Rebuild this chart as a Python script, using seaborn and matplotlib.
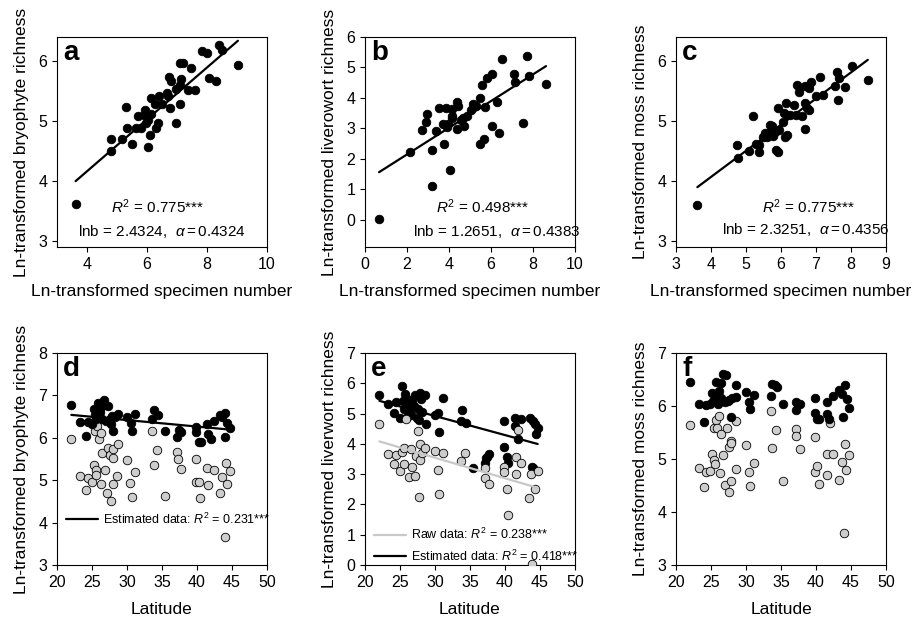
import numpy as np
import pandas as pd
import seaborn as sns
import matplotlib.pyplot as plt

# ---- top row: richness vs specimen number ----
a_x = [3.62, 4.81, 4.81, 5.17, 5.31, 5.34, 5.50, 5.64, 5.71, 5.81, 5.89, 5.92, 5.98, 6.03,
       6.11, 6.13, 6.13, 6.27, 6.31, 6.38, 6.39, 6.51, 6.68, 6.76, 6.72, 6.81, 6.98, 6.98,
       7.09, 7.11, 7.14, 7.09, 7.20, 7.37, 7.48, 7.59, 7.84, 8.00, 8.07, 8.29, 8.40, 8.51,
       9.03, 6.70, 6.02]
a_y = [3.62, 4.70, 4.50, 4.70, 5.23, 4.88, 4.62, 4.89, 5.09, 4.89, 5.10, 5.19, 4.97, 4.57,
       4.76, 5.11, 5.38, 5.29, 4.88, 4.97, 5.41, 5.29, 5.47, 5.21, 5.73, 5.67, 4.96, 5.53,
       5.60, 5.28, 5.70, 5.97, 5.97, 5.52, 5.88, 5.52, 6.16, 6.13, 5.71, 5.66, 6.27, 6.19,
       5.94, 5.41, 5.02]
a_lnb, a_alpha = 2.4324, 0.4324

b_x = [0.67, 2.14, 2.70, 2.90, 2.97, 3.21, 3.21, 3.38, 3.52, 3.76, 3.73, 3.84, 3.89, 3.97,
       4.05, 4.13, 4.14, 4.14, 4.37, 4.41, 4.40, 4.56, 4.68, 4.73, 5.03, 5.16, 5.27, 5.48,
       5.48, 5.56, 5.68, 5.70, 5.79, 6.03, 6.06, 6.27, 6.40, 6.51, 7.10, 7.14, 7.51, 7.70,
       7.83, 8.62, 4.84]
b_y = [0.02, 2.22, 2.96, 3.22, 3.48, 1.12, 2.30, 2.91, 3.67, 2.49, 3.15, 3.67, 3.04, 3.13,
       1.63, 3.64, 3.42, 3.33, 3.86, 3.72, 2.98, 3.26, 3.35, 3.09, 3.59, 3.81, 3.72, 4.00,
       2.49, 4.41, 2.65, 3.70, 4.65, 4.79, 3.06, 3.86, 2.84, 5.29, 4.77, 4.52, 3.18, 5.37,
       4.71, 4.46, 3.42]
b_lnb, b_alpha = 1.2651, 0.4383

c_x = [3.61, 4.73, 4.76, 5.09, 5.21, 5.28, 5.37, 5.37, 5.48, 5.54, 5.59, 5.66, 5.69, 5.73,
       5.78, 5.84, 5.85, 5.92, 5.92, 5.94, 6.05, 6.09, 6.11, 6.14, 6.16, 6.18, 6.26, 6.37,
       6.43, 6.45, 6.51, 6.61, 6.68, 6.69, 6.69, 6.75, 6.80, 6.86, 6.80, 7.00, 7.11, 7.21,
       7.54, 7.59, 7.64, 7.67, 7.84, 8.02, 8.48]
c_y = [3.60, 4.60, 4.38, 4.50, 5.09, 4.61, 4.60, 4.49, 4.73, 4.80, 4.74, 4.80, 4.94, 4.91,
       4.75, 4.82, 4.52, 4.49, 5.21, 4.85, 4.99, 5.13, 4.73, 5.30, 4.77, 5.10, 5.10, 5.26,
       5.10, 5.60, 5.49, 5.09, 5.59, 4.86, 5.30, 5.21, 5.55, 5.65, 5.19, 5.42, 5.73, 5.44,
       5.59, 5.81, 5.35, 5.72, 5.57, 5.91, 5.68]
c_lnb, c_alpha = 2.3251, 0.4356

# ---- bottom row: richness vs latitude (black = estimated, grey = raw) ----
d_est_lat = [22.05, 23.33, 24.19, 24.43, 25.05, 25.29, 25.48, 25.62, 25.86, 26.10, 26.33,
             26.48, 26.67, 26.95, 27.29, 27.52, 27.76, 27.86, 28.00, 28.24, 28.71, 30.05,
             30.52, 30.71, 31.10, 33.62, 33.86, 34.43, 35.38, 37.14, 37.38, 37.76, 39.90,
             39.90, 40.29, 40.52, 41.43, 41.57, 41.95, 42.38, 43.24, 43.57, 43.95, 44.05,
             44.33, 44.67]
d_est = [6.78, 6.38, 6.05, 6.38, 6.32, 6.68, 6.54, 6.44, 6.81, 6.60, 6.72, 6.44, 6.88, 6.39,
         6.76, 6.44, 6.32, 6.52, 6.16, 6.48, 6.56, 6.50, 6.35, 6.16, 6.56, 6.44, 6.66, 6.54,
         6.16, 6.01, 6.18, 6.13, 6.26, 6.13, 5.89, 5.90, 6.32, 6.09, 5.98, 6.40, 6.54, 6.48,
         6.01, 6.58, 6.35, 6.23]
d_raw_lat = [22.05, 23.33, 24.10, 24.43, 25.05, 25.29, 25.38, 25.62, 25.62, 25.76, 25.95,
             26.33, 26.33, 26.48, 26.81, 27.14, 27.29, 27.62, 27.76, 28.00, 28.00, 28.00,
             28.57, 28.71, 30.00, 30.48, 30.71, 31.19, 33.57, 33.86, 34.33, 35.38, 37.14,
             37.29, 37.76, 39.90, 39.90, 40.29, 40.38, 41.48, 41.52, 42.38, 43.33, 43.62,
             43.95, 44.19, 44.33, 44.67]
d_raw = [5.98, 5.11, 4.78, 5.06, 4.95, 5.35, 6.15, 5.25, 5.12, 6.27, 5.97, 6.11, 4.90, 5.65,
         5.24, 4.70, 5.75, 5.59, 4.50, 5.53, 4.90, 5.73, 5.10, 5.86, 5.47, 4.94, 4.61, 5.19,
         6.16, 5.37, 5.71, 4.62, 5.67, 5.51, 5.27, 5.51, 4.95, 4.95, 4.58, 5.29, 4.88, 5.25,
         4.70, 5.08, 3.65, 5.41, 4.91, 5.22]
d_est_fit = (6.878, -0.01532)

e_est_lat = [22.05, 23.33, 24.19, 24.43, 25.00, 25.24, 25.38, 25.57, 25.71, 25.86, 25.95,
             26.19, 26.33, 26.57, 26.76, 27.05, 27.14, 27.38, 27.62, 27.76, 27.86, 27.95,
             28.10, 28.57, 28.71, 30.00, 30.38, 30.62, 31.19, 33.67, 33.90, 34.38, 35.38,
             37.14, 37.29, 37.48, 37.76, 39.90, 39.90, 40.24, 40.48, 41.43, 41.43, 41.90,
             42.29, 43.57, 43.90, 44.05, 44.29, 44.38, 44.67, 44.05]
e_est = [5.61, 5.33, 5.03, 5.39, 4.86, 5.92, 5.42, 5.14, 5.64, 5.50, 4.90, 5.36, 5.14, 4.94,
         5.45, 5.25, 5.61, 4.86, 5.16, 4.79, 5.68, 5.48, 5.05, 5.61, 4.64, 4.94, 5.03, 4.40,
         5.50, 4.75, 5.12, 4.70, 3.19, 3.36, 3.53, 3.58, 3.67, 3.89, 4.75, 3.58, 3.36, 4.86,
         4.58, 4.16, 4.81, 4.86, 3.23, 4.75, 4.64, 4.34, 4.53, 3.19]
e_raw_lat = [22.05, 23.33, 24.14, 24.43, 25.00, 25.24, 25.57, 25.57, 25.86, 26.33, 26.52,
             26.76, 27.14, 27.29, 27.62, 27.76, 27.86, 27.86, 28.10, 28.57, 30.00, 30.38,
             30.62, 31.19, 33.67, 34.29, 37.14, 37.14, 37.76, 39.86, 39.86, 40.24, 40.48,
             41.52, 41.52, 41.90, 42.29, 43.43, 43.67, 43.90, 44.29, 44.67]
e_raw = [4.66, 3.67, 3.34, 3.62, 3.10, 3.73, 3.34, 3.86, 4.81, 2.92, 3.83, 3.25, 2.95, 3.61,
         4.42, 2.23, 4.01, 3.47, 3.69, 3.86, 3.75, 3.14, 2.33, 3.69, 3.45, 3.69, 3.19, 2.86,
         2.67, 3.25, 3.06, 2.50, 1.64, 3.58, 3.00, 4.47, 3.36, 2.21, 3.00, 0.02, 2.50, 3.10]
e_est_fit = (6.81, -0.0630)
e_raw_fit = (5.576, -0.0678)

f_est_lat = [22.01, 23.25, 24.06, 24.30, 24.87, 25.11, 25.35, 25.64, 25.73, 25.97, 26.21,
             26.45, 26.69, 26.45, 26.93, 27.17, 27.41, 27.64, 27.79, 28.03, 28.50, 28.60,
             29.94, 30.37, 30.61, 31.13, 33.52, 33.71, 34.09, 34.48, 35.29, 37.10, 37.20,
             37.68, 39.83, 39.83, 40.16, 40.45, 41.50, 41.50, 41.88, 42.36, 43.32, 43.65,
             43.89, 44.13, 44.37, 44.70]
f_est = [6.45, 6.03, 5.69, 6.02, 6.04, 6.24, 6.10, 6.20, 6.46, 6.04, 6.29, 6.44, 6.61, 6.15,
         6.07, 6.58, 6.10, 6.12, 5.80, 6.15, 6.17, 6.40, 6.27, 6.08, 5.94, 6.21, 6.18, 6.42,
         6.39, 6.36, 6.03, 6.08, 5.93, 6.03, 6.15, 5.87, 5.75, 5.75, 6.07, 5.85, 5.76, 6.18,
         6.31, 6.23, 5.80, 6.40, 6.13, 5.97]
f_raw_lat = [22.01, 23.25, 24.06, 24.30, 24.92, 25.16, 25.49, 25.49, 25.64, 25.73, 25.83,
             26.21, 26.35, 26.45, 26.69, 27.07, 27.26, 27.64, 27.79, 27.88, 27.79, 27.64,
             28.50, 28.60, 29.94, 30.42, 30.61, 31.13, 33.62, 33.76, 34.33, 35.29, 37.10,
             37.20, 37.68, 39.83, 39.83, 40.21, 40.40, 41.50, 41.50, 41.98, 42.36, 43.32,
             43.65, 44.03, 44.13, 44.27, 44.70]
f_raw = [5.64, 4.83, 4.48, 4.76, 4.78, 5.10, 5.59, 4.99, 4.91, 5.73, 5.58, 5.82, 4.73, 5.48,
         5.08, 4.51, 5.59, 5.23, 5.34, 5.31, 4.59, 4.38, 4.81, 5.72, 5.26, 4.75, 4.49, 4.92,
         5.91, 5.21, 5.55, 4.59, 5.57, 5.43, 5.19, 5.42, 4.75, 4.86, 4.52, 4.70, 5.10, 5.68,
         5.10, 4.61, 4.94, 3.60, 5.29, 4.80, 5.08]

sns.set_style("ticks")
plt.rcParams["font.family"] = ["Liberation Sans", "DejaVu Sans"]
plt.rcParams["mathtext.fontset"] = "custom"
plt.rcParams["mathtext.rm"] = "Liberation Sans"
plt.rcParams["mathtext.it"] = "Liberation Sans:italic"
plt.rcParams["mathtext.bf"] = "Liberation Sans:bold"
plt.rcParams["text.color"] = "black"
plt.rcParams["axes.labelcolor"] = "black"
plt.rcParams["xtick.color"] = "black"
plt.rcParams["ytick.color"] = "black"

GREY = "#cdcdcd"
W, H = 918, 621


def box(x0, top, w=210, h=210):
    return [x0 / W, (H - top - h) / H, w / W, h / H]


fig = plt.figure(figsize=(9.18, 6.21), dpi=100)
axes = {
    "a": fig.add_axes(box(57, 37)),
    "b": fig.add_axes(box(365, 37)),
    "c": fig.add_axes(box(676, 37)),
    "d": fig.add_axes(box(57, 353, h=212)),
    "e": fig.add_axes(box(365, 353, h=212)),
    "f": fig.add_axes(box(676, 353, h=212)),
}


def style(ax, letter, xlabel, ylabel):
    for s in ax.spines.values():
        s.set_color("black")
        s.set_linewidth(0.8)
    ax.tick_params(direction="out", length=3.5, width=0.8, labelsize=11.5, colors="black")
    ax.set_xlabel(xlabel, fontsize=12.5, labelpad=9)
    ax.set_ylabel(ylabel, fontsize=12.5, labelpad=7)
    ax.text(0.03, 0.985, letter, transform=ax.transAxes, fontsize=20, fontweight="bold",
            ha="left", va="top")


def dots(ax, x, y, fill):
    sns.scatterplot(x=x, y=y, ax=ax, s=38, color=fill, edgecolor="black",
                    linewidth=0.6, zorder=3, legend=False)


def fit_line(ax, x, fit, color, label=None):
    xs = np.array([min(x), max(x)])
    sns.lineplot(x=xs, y=fit[0] + fit[1] * xs, ax=ax, color=color, linewidth=1.6,
                 zorder=4, label=label)


# top row
top = [("a", a_x, a_y, a_lnb, a_alpha, "Ln-transformed bryophyte richness", "0.775"),
       ("b", b_x, b_y, b_lnb, b_alpha, "Ln-transformed liverowort richness", "0.498"),
       ("c", c_x, c_y, c_lnb, c_alpha, "Ln-transformed moss richness", "0.775")]
text_pos = {"a": ((0.48, 0.19), (0.50, 0.075)),
            "b": ((0.56, 0.19), (0.63, 0.075)),
            "c": ((0.63, 0.19), (0.62, 0.085))}
for letter, x, y, lnb, alpha, ylabel, r2 in top:
    ax = axes[letter]
    dots(ax, x, y, "black")
    fit_line(ax, x, (lnb, alpha), "black")
    p1, p2 = text_pos[letter]
    ax.text(*p1, r"$R^2$ = " + r2 + "***", transform=ax.transAxes,
            ha="center", va="center", fontsize=11)
    ax.text(*p2, "lnb = %.4f,  " % lnb + r"$\alpha = %.4f$" % alpha,
            transform=ax.transAxes, ha="center", va="center", fontsize=11)
    style(ax, letter, "Ln-transformed specimen number", ylabel)

axes["a"].set(xlim=(3, 10), ylim=(2.9, 6.4), xticks=[4, 6, 8, 10], yticks=[3, 4, 5, 6])
axes["b"].set(xlim=(0, 10), ylim=(-0.9, 6), xticks=[0, 2, 4, 6, 8, 10], yticks=range(0, 7))
axes["c"].set(xlim=(3, 9), ylim=(2.9, 6.4), xticks=range(3, 10), yticks=[3, 4, 5, 6])

# bottom row
ax = axes["d"]
dots(ax, d_raw_lat, d_raw, GREY)
dots(ax, d_est_lat, d_est, "black")
fit_line(ax, d_est_lat, d_est_fit, "black", r"Estimated data: $R^2$ = 0.231***")
ax.legend(loc="lower left", bbox_to_anchor=(0.0, 0.14), frameon=False, fontsize=9,
          handlelength=2.6, handletextpad=0.4, borderaxespad=0.3)
ax.set(xlim=(20, 50), ylim=(3, 8), xticks=range(20, 51, 5), yticks=range(3, 9))
style(ax, "d", "Latitude", "Ln-transformed bryophyte richness")

ax = axes["e"]
dots(ax, e_est_lat, e_est, "black")
dots(ax, e_raw_lat, e_raw, GREY)
fit_line(ax, e_raw_lat, e_raw_fit, "#c8c8c8", r"Raw data: $R^2$ = 0.238***")
fit_line(ax, e_est_lat, e_est_fit, "black", r"Estimated data: $R^2$ = 0.418***")
ax.legend(loc="lower left", bbox_to_anchor=(0.0, -0.035), frameon=False, fontsize=9,
          handlelength=2.6, handletextpad=0.4, borderaxespad=0.3, labelspacing=0.5)
ax.set(xlim=(20, 50), ylim=(0, 7), xticks=range(20, 51, 5), yticks=range(0, 8))
style(ax, "e", "Latitude", "Ln-transformed liverwort richness")

ax = axes["f"]
dots(ax, f_raw_lat, f_raw, GREY)
dots(ax, f_est_lat, f_est, "black")
ax.set(xlim=(20, 50), ylim=(3, 7), xticks=range(20, 51, 5), yticks=range(3, 8))
style(ax, "f", "Latitude", "Ln-transformed moss richness")

fig.savefig("out.png", dpi=100)
